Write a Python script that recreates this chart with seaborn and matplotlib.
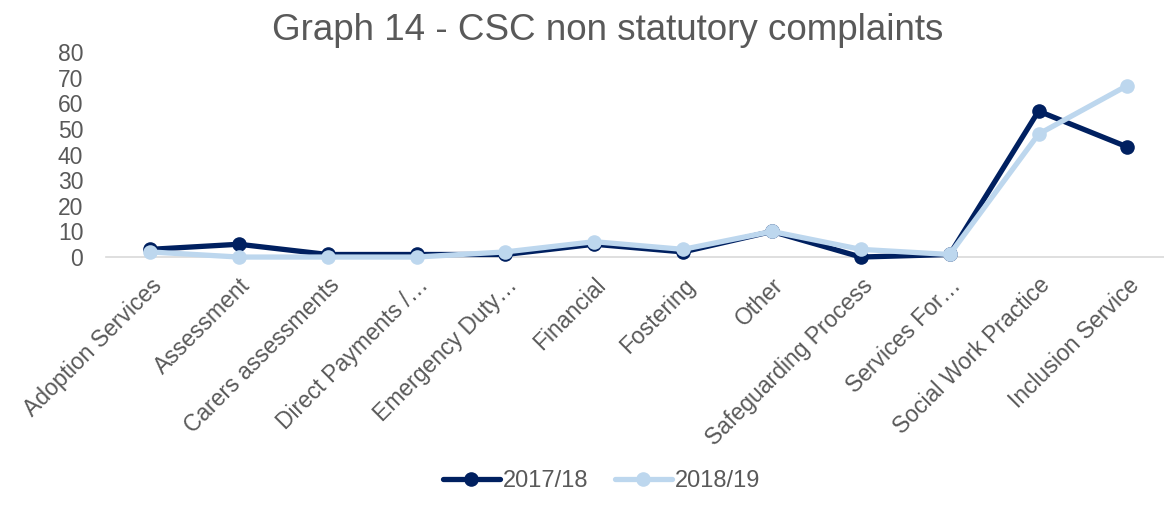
import pandas as pd
import matplotlib.pyplot as plt
import seaborn as sns

# --- DATEN ---
categories = [
    "Adoption Services", "Assessment", "Carers assessments", "Direct Payments /\u2026",
    "Emergency Duty\u2026", "Financial", "Fostering", "Other", "Safeguarding Process",
    "Services For\u2026", "Social Work Practice", "Inclusion Service",
]
vals_1718 = [3, 5, 1, 1, 1, 5, 2, 10, 0, 1, 57, 43]
vals_1819 = [2, 0, 0, 0, 2, 6, 3, 10, 3, 1, 48, 67]
series_names = ["2017/18", "2018/19"]
colors = ["#002060", "#BDD7EE"]

df = pd.DataFrame({
    "pos": list(range(len(categories))) * 2,
    "Year": [series_names[0]] * len(categories) + [series_names[1]] * len(categories),
    "Value": vals_1718 + vals_1819,
})

sns.set_style("white")
plt.rcParams["font.family"] = ["Liberation Sans", "DejaVu Sans"]
grey = "#595959"

fig = plt.figure(figsize=(11.64, 5.07), dpi=100)
# Achse: 0 bei y=257px, 80 bei y=52px, erste Kategorie bei x=150px
ax = fig.add_axes([0.0907, 0.493, 0.916, 0.404])

sns.lineplot(
    data=df, x="pos", y="Value", hue="Year", hue_order=series_names,
    palette=colors, marker="o", markersize=10.5, markeredgewidth=0,
    linewidth=3.8, ax=ax, legend=True, clip_on=False,
)

ax.set_xlim(-0.5, len(categories) - 0.5)
ax.set_ylim(0, 80)
ax.set_yticks(range(0, 81, 10))
ax.set_xticks(range(len(categories)))
ax.set_xticklabels(categories, rotation=45, ha="right", rotation_mode="anchor")
ax.tick_params(axis="both", labelsize=16.5, colors=grey, length=0)
ax.tick_params(axis="x", pad=12)
ax.tick_params(axis="y", pad=16)
ax.set_xlabel("")
ax.set_ylabel("")
for s in ["top", "right", "left"]:
    ax.spines[s].set_visible(False)
ax.spines["bottom"].set_color("#D9D9D9")
ax.spines["bottom"].set_linewidth(1.2)
ax.spines["bottom"].set_zorder(0)

fig.suptitle("Graph 14 - CSC non statutory complaints", x=0.522, y=0.975,
             fontsize=26.5, color=grey)

handles, labels = ax.get_legend_handles_labels()
ax.get_legend().remove()
fig.legend(handles=handles, labels=labels, loc="lower center",
           bbox_to_anchor=(0.517, -0.012), ncol=2, frameon=False, fontsize=17,
           labelcolor=grey, handlelength=2.4, columnspacing=1.1, handletextpad=0.15)

fig.savefig("out.png", dpi=100)
plt.close()
